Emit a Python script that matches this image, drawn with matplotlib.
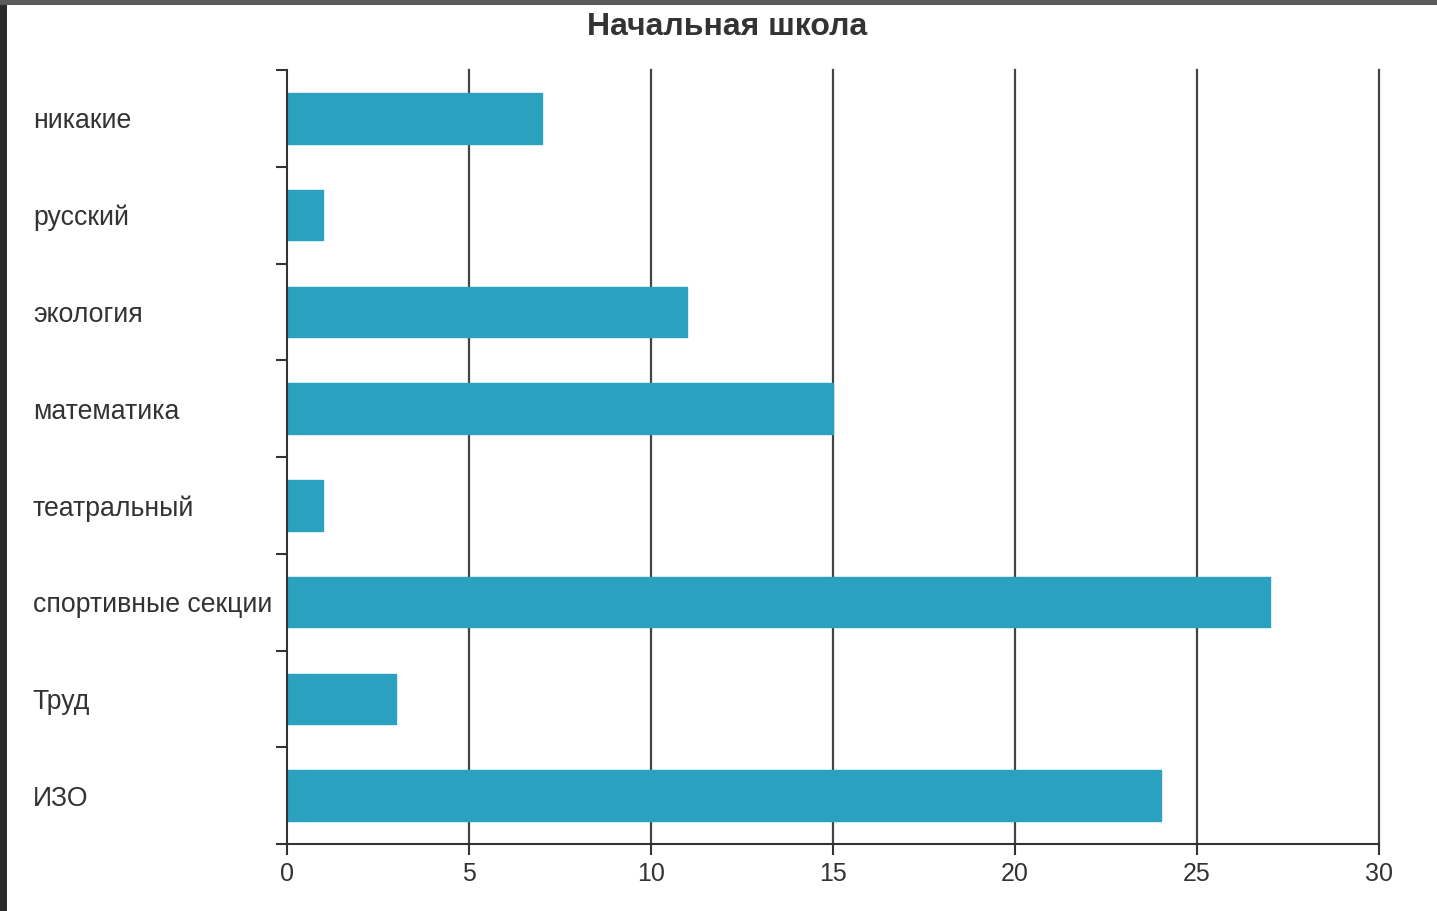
import numpy as np
import matplotlib.pyplot as plt
from matplotlib.patches import Rectangle
from matplotlib.ticker import FixedLocator

plt.rcParams['font.family'] = ['Liberation Sans', 'DejaVu Sans']

categories = ["никакие", "русский", "экология", "математика",
              "театральный", "спортивные секции", "Труд", "ИЗО"]
values = [7, 1, 11, 15, 1, 27, 3, 24]
x_ticks = [0, 5, 10, 15, 20, 25, 30]
title = "Начальная школа"

fig = plt.figure(figsize=(14.37, 9.11), dpi=100)
fig.patch.set_facecolor("white")
# dark screenshot border (left and top)
fig.patches.append(Rectangle((0, 0), 7 / 1437, 1, transform=fig.transFigure,
                             facecolor="#2b2b2b", edgecolor="none", zorder=0))
fig.patches.append(Rectangle((0, 1 - 5 / 911), 1, 5 / 911, transform=fig.transFigure,
                             facecolor="#5a5a5a", edgecolor="none", zorder=0))

ax = fig.add_axes([287 / 1437, 1 - 844 / 911, (1379 - 287) / 1437, (844 - 70) / 911])

n = len(categories)
pos = np.arange(n)[::-1]  # first category at top
ax.barh(pos, values, height=0.52, color="#2aa1be", edgecolor="#2aa1be", zorder=2)

ax.set_xlim(0, 30)
ax.set_ylim(-0.5, n - 0.5)
ax.set_xticks(x_ticks)
ax.set_xticklabels([str(t) for t in x_ticks])
ax.tick_params(axis="x", direction="out", length=8, width=1.5, color="#333333",
               labelsize=18, labelcolor="#333333", pad=5)

# y ticks at band boundaries, labels at band centers (left aligned)
ax.yaxis.set_major_locator(FixedLocator(np.arange(-0.5, n, 1.0)))
ax.yaxis.set_minor_locator(FixedLocator(pos))
ax.set_yticklabels([], minor=False)
ax.set_yticklabels(categories, minor=True, ha="left")
ax.tick_params(axis="y", which="major", direction="out", length=8, width=1.5,
               color="#333333")
ax.tick_params(axis="y", which="minor", length=0, pad=183, labelsize=19.2,
               labelcolor="#333333")

for x in x_ticks[1:]:
    ax.axvline(x, color="#444444", linewidth=1.6, zorder=1, clip_on=False)

for side in ["top", "right"]:
    ax.spines[side].set_visible(False)
for side in ["left", "bottom"]:
    ax.spines[side].set_color("#333333")
    ax.spines[side].set_linewidth(1.5)

fig.text(727 / 1437, 1 - 27 / 911, title, ha="center", va="center",
         fontsize=23, fontweight="bold", color="#333333")

fig.savefig("out.png", dpi=100)
